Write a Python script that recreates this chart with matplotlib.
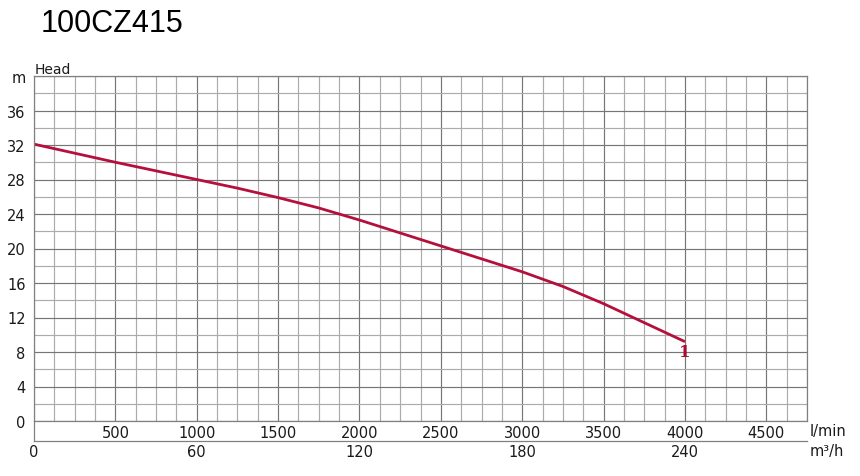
import matplotlib.pyplot as plt
import numpy as np

# pump curve 100CZ415, flow in l/min, head in m
flow = [0, 250, 500, 750, 1000, 1250, 1500, 1750, 2000, 2250, 2500,
        2750, 3000, 3250, 3500, 3750, 4000]
head = [32.1, 31.05, 30.0, 29.0, 28.0, 27.0, 25.9, 24.7, 23.3, 21.8, 20.3,
        18.8, 17.3, 15.6, 13.6, 11.4, 9.2]
curve_label = '1'

x_ticks = [500, 1000, 1500, 2000, 2500, 3000, 3500, 4000, 4500]
m3h_ticks = [0, 60, 120, 180, 240]
y_ticks = [0, 4, 8, 12, 16, 20, 24, 28, 32, 36, 40]
y_labels = ['0', '4', '8', '12', '16', '20', '24', '28', '32', '36', 'm']

W, H = 860, 477
fig = plt.figure(figsize=(W / 100, H / 100), dpi=100)
ax = fig.add_axes([34 / W, 1 - 422 / H, (807 - 34) / W, (422 - 77) / H])

ax.set_xlim(0, 4750)
ax.set_ylim(0, 40)

# grid
ax.set_xticks(np.arange(0, 4751, 125), minor=True)
ax.set_yticks(np.arange(0, 41, 2), minor=True)
ax.grid(which='minor', color='#ababab', linewidth=0.85)
ax.grid(which='major', color='#767676', linewidth=0.85)
ax.set_axisbelow(True)

ax.set_xticks(x_ticks)
ax.set_xticklabels([str(v) for v in x_ticks])
ax.set_yticks(y_ticks)
ax.set_yticklabels(y_labels)
ax.tick_params(which='both', length=0)
ax.tick_params(axis='x', pad=3, labelsize=10.5, labelcolor='#1a1a1a')
ax.tick_params(axis='y', pad=6, labelsize=10.5, labelcolor='#1a1a1a')

for s in ax.spines.values():
    s.set_color('#808080')
    s.set_linewidth(0.9)

# lower band with the second unit
off = -20 / 345
ax.plot([0, 0], [off, 0], transform=ax.transAxes, color='#808080',
        linewidth=0.9, clip_on=False)
sec = ax.secondary_xaxis(off, functions=(lambda x: x * 0.06, lambda x: x / 0.06))
sec.set_xticks(m3h_ticks)
sec.tick_params(length=0, pad=2, labelsize=10.5, labelcolor='#1a1a1a')
sec.spines['bottom'].set_color('#808080')
sec.spines['bottom'].set_linewidth(0.9)

ax.plot(flow, head, color='#b5103c', linewidth=2, solid_capstyle='butt')
ax.text(flow[-1], head[-1] - 0.1, curve_label, color='#a80c34',
        fontsize=12, family='DejaVu Serif', fontweight='bold', ha='center', va='top')

fig.text(35 / W, 1 - 70 / H, 'Head', fontsize=10, va='center', color='#1a1a1a')
fig.text(810 / W, 1 - 432 / H, 'l/min', fontsize=10.5, va='center', color='#1a1a1a')
fig.text(810 / W, 1 - 452 / H, 'm³/h', fontsize=10.5, va='center', color='#1a1a1a')
fig.text(41 / W, 1 - 24 / H, '100CZ415', fontsize=22, family='Liberation Sans',
         va='center', color='black')

fig.savefig('out.png', dpi=100)
